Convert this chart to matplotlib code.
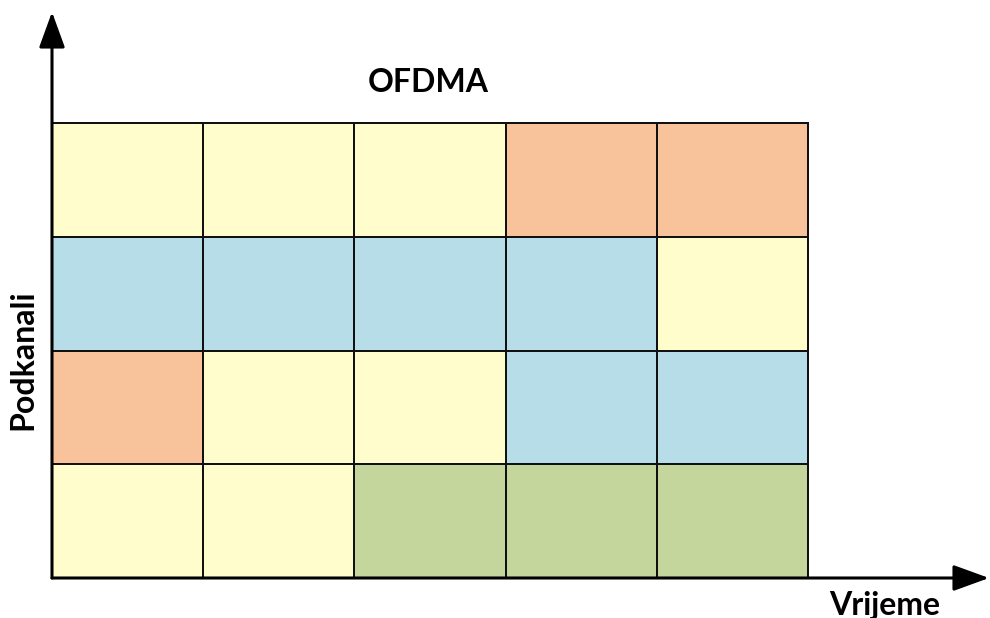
import matplotlib.pyplot as plt
import numpy as np
from matplotlib.colors import ListedColormap

# --- data: resource allocation grid (rows listed bottom -> top) ---
n_slots = 5          # time slots (columns)
n_subch = 4          # subchannels (rows)
user_names = ["yellow", "orange", "blue", "green"]
user_colors = ["#FFFDCB", "#F8C39B", "#B7DDE8", "#C4D69B"]
# 0=yellow, 1=orange, 2=blue, 3=green
grid_bottom_up = [
    [0, 0, 3, 3, 3],
    [1, 0, 0, 2, 2],
    [2, 2, 2, 2, 0],
    [0, 0, 0, 1, 1],
]
title_text = "OFDMA"
xlabel_text = "Vrijeme"
ylabel_text = "Podkanali"

plt.rcParams["font.family"] = ["Lato", "DejaVu Sans"]

W, H = 990, 618
fig = plt.figure(figsize=(W / 100, H / 100), dpi=100)
ax = fig.add_axes([0, 0, 1, 1])
ax.set_axis_off()

# pixel layout of the grid in the reference
left_px, right_px, top_px, bottom_px = 52, 808, 123, 578
cw = (right_px - left_px) / n_slots
rh = (bottom_px - top_px) / n_subch
ax.set_xlim(-left_px / cw, (W - left_px) / cw)
ax.set_ylim(-(H - bottom_px) / rh, n_subch + top_px / rh)

cmap = ListedColormap(user_colors)
ax.pcolormesh(np.arange(n_slots + 1), np.arange(n_subch + 1),
              np.array(grid_bottom_up), cmap=cmap, vmin=-0.5, vmax=3.5,
              edgecolors="#111111", linewidth=1.3)

# axis arrows
arrow = dict(arrowstyle="-|>,head_length=2.2,head_width=0.8",
             mutation_scale=10, color="black", lw=2.2,
             shrinkA=0, shrinkB=0)
ytip = (H - 12) / rh - (H - bottom_px) / rh
xtip = (W - 1 - left_px) / cw
ax.annotate("", xy=(0, ytip), xytext=(0, 0), arrowprops=arrow)
ax.annotate("", xy=(xtip, 0), xytext=(0, 0), arrowprops=arrow)

ax.text(2.49, 4.36, title_text, ha="center", va="center",
        fontsize=23, fontweight="bold")
ax.text(5.51, -0.24, xlabel_text, ha="center", va="center",
        fontsize=23, fontweight="bold")
ax.text(-0.19, 1.92, ylabel_text, ha="center", va="center",
        fontsize=23, fontweight="bold", rotation=90)

fig.savefig("out.png", dpi=100)
